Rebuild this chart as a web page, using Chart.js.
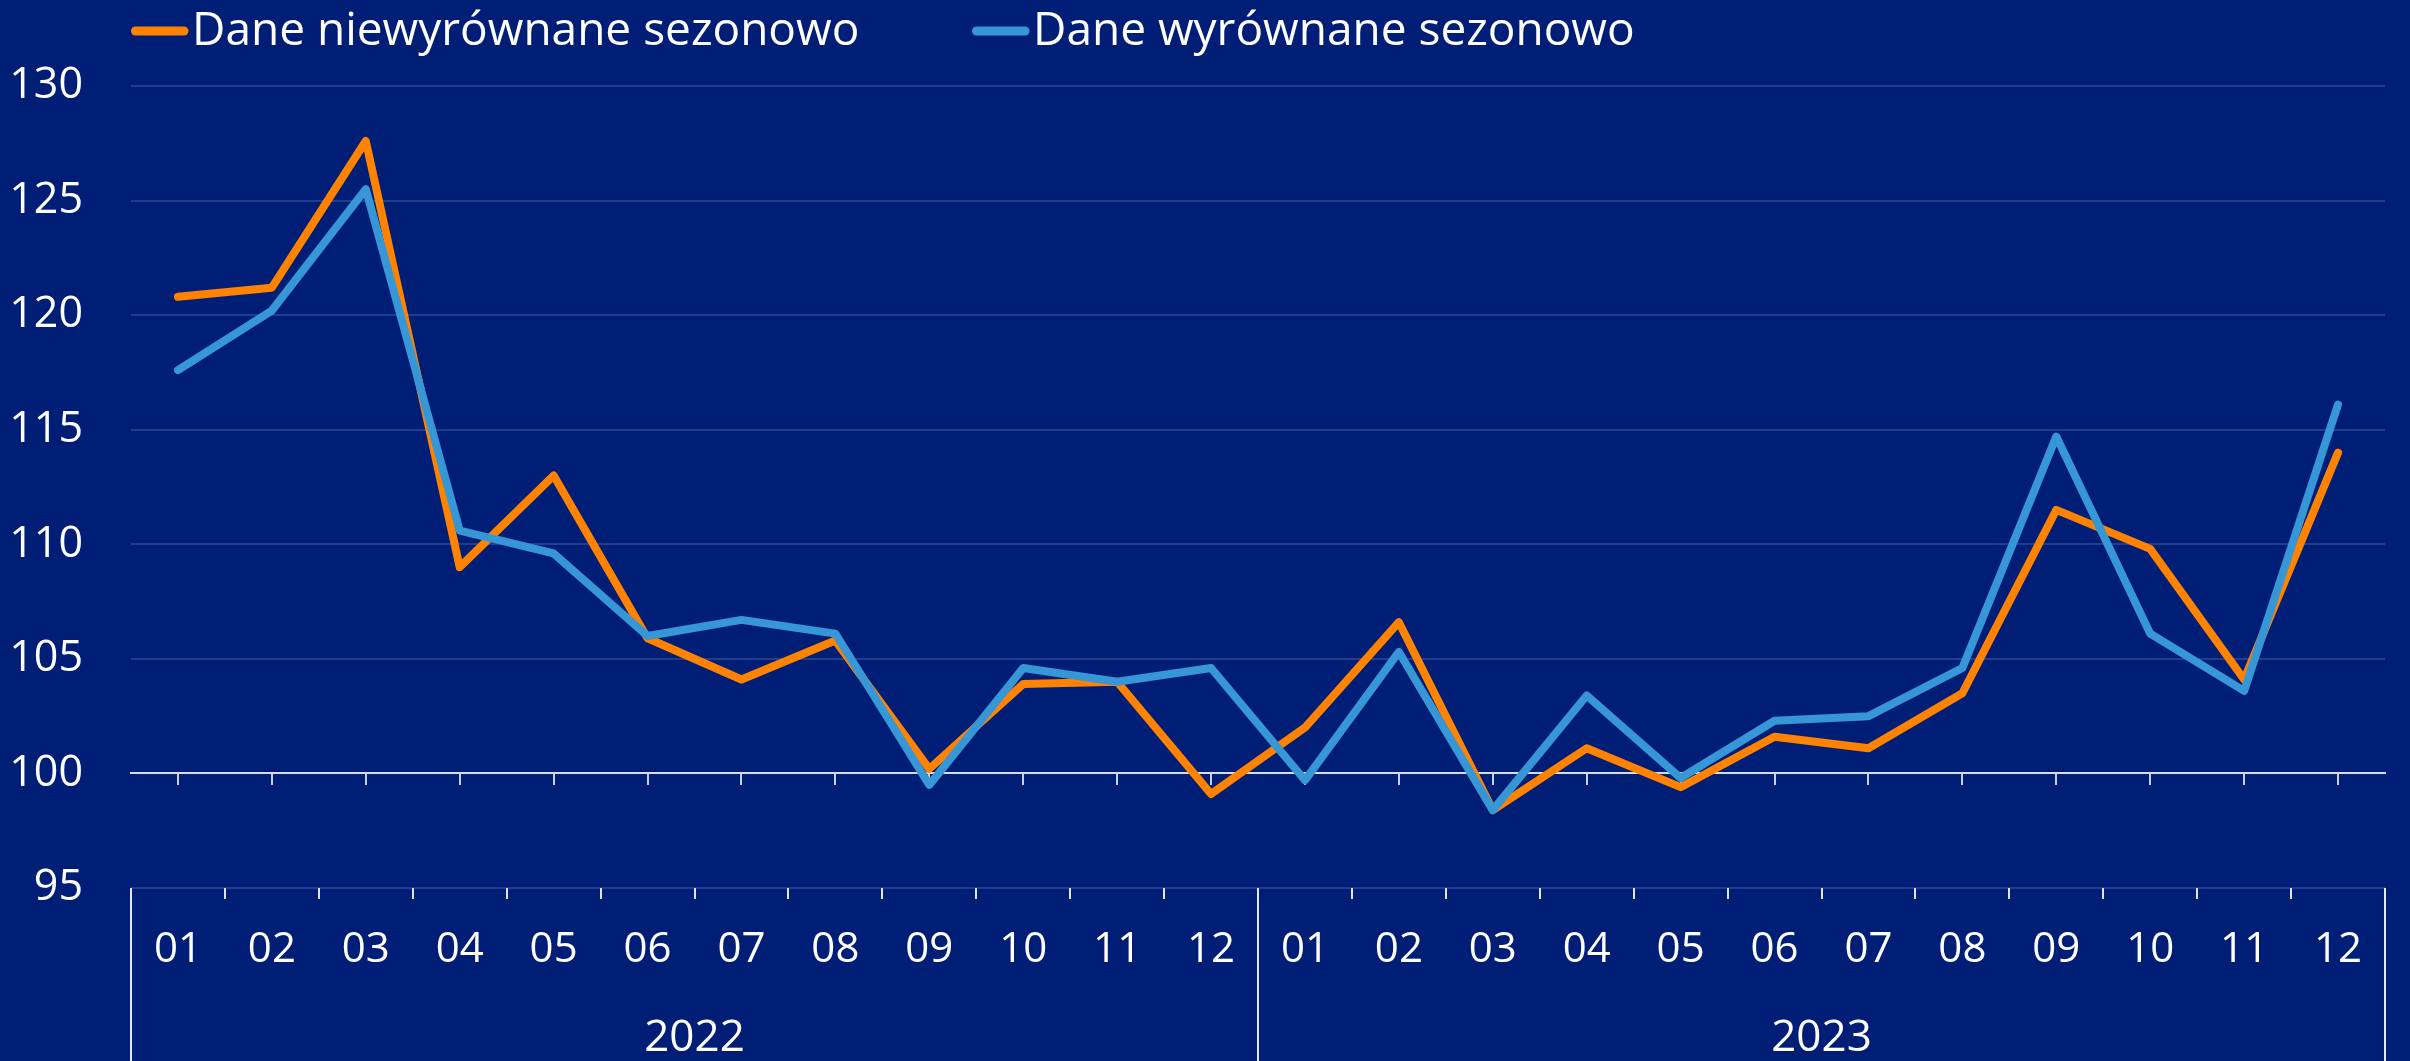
<!DOCTYPE html>
<html>
<head>
<meta charset="utf-8">
<script src="https://cdn.jsdelivr.net/npm/chart.js@4"></script>
<style>
  html, body { margin: 0; padding: 0; background: #001e76; }
  #wrap { width: 2410px; height: 1061px; }
  canvas { display: block; }
</style>
</head>
<body>
<div id="wrap"><canvas id="c" width="2410" height="1061"></canvas></div>
<script>
const months = ['01','02','03','04','05','06','07','08','09','10','11','12',
                '01','02','03','04','05','06','07','08','09','10','11','12'];
const years = ['2022', '2023'];
const yTicks = [95, 100, 105, 110, 115, 120, 125, 130];
const seriesNames = ['Dane niewyrównane sezonowo', 'Dane wyrównane sezonowo'];
const nsaValues = [120.8, 121.2, 127.6, 109.0, 113.0, 105.9, 104.1, 105.8, 100.2, 103.9, 104.0, 99.1,
                   102.0, 106.6, 98.4, 101.1, 99.4, 101.6, 101.1, 103.5, 111.5, 109.8, 104.1, 114.0];
const saValues  = [117.6, 120.2, 125.5, 110.6, 109.6, 106.0, 106.7, 106.1, 99.5, 104.6, 104.0, 104.6,
                   99.7, 105.3, 98.4, 103.4, 99.8, 102.3, 102.5, 104.6, 114.7, 106.1, 103.6, 116.1];

const BG = '#001e76';
const ORANGE = '#ff8300';
const BLUE = '#3796d6';
const GRID = '#223d8c';
const FONT = "'Open Sans', 'Noto Sans', sans-serif";

const bgPlugin = {
  id: 'bg',
  beforeDraw(chart) {
    const ctx = chart.ctx;
    ctx.save();
    ctx.fillStyle = BG;
    ctx.fillRect(0, 0, chart.width, chart.height);
    ctx.restore();
  }
};

const groupLines = {
  id: 'groupLines',
  afterDraw(chart) {
    const xs = chart.scales.x;
    const ctx = chart.ctx;
    const mid = (xs.getPixelForValue(11) + xs.getPixelForValue(12)) / 2;
    const positions = [xs.left, mid, xs.right];
    ctx.save();
    ctx.strokeStyle = '#e6e9f2';
    ctx.lineWidth = 2;
    positions.forEach(px => {
      const p = Math.round(px);
      ctx.beginPath();
      ctx.moveTo(p, chart.chartArea.bottom);
      ctx.lineTo(p, chart.height);
      ctx.stroke();
    });
    ctx.restore();
  }
};

const legendPlugin = {
  id: 'refLegend',
  afterDraw(chart) {
    const ctx = chart.ctx;
    const starts = [chart.chartArea.left, chart.chartArea.left + 841];
    ctx.save();
    ctx.font = "46px " + FONT;
    ctx.textBaseline = 'alphabetic';
    ctx.textAlign = 'left';
    chart.data.datasets.forEach((ds, i) => {
      const x0 = starts[i];
      ctx.strokeStyle = ds.borderColor;
      ctx.lineWidth = 9;
      ctx.lineCap = 'round';
      ctx.beginPath();
      ctx.moveTo(x0 + 4.5, 31);
      ctx.lineTo(x0 + 53, 31);
      ctx.stroke();
      ctx.fillStyle = '#ffffff';
      ctx.fillText(ds.label, x0 + 61, 45);
    });
    ctx.restore();
  }
};

new Chart(document.getElementById('c'), {
  type: 'line',
  data: {
    labels: months,
    datasets: [
      { label: seriesNames[0], data: nsaValues, borderColor: ORANGE, backgroundColor: ORANGE,
        borderWidth: 8, pointRadius: 0, tension: 0, order: 1,
        borderCapStyle: 'round', borderJoinStyle: 'round', xAxisID: 'x', yAxisID: 'y' },
      { label: seriesNames[1], data: saValues, borderColor: BLUE, backgroundColor: BLUE,
        borderWidth: 8, pointRadius: 0, tension: 0, order: 0,
        borderCapStyle: 'round', borderJoinStyle: 'round', xAxisID: 'x', yAxisID: 'y' }
    ]
  },
  options: {
    responsive: false,
    animation: false,
    devicePixelRatio: 1,
    layout: { padding: { top: 86, right: 25, bottom: 0, left: 0 } },
    plugins: {
      legend: { display: false },
      tooltip: { enabled: false }
    },
    scales: {
      y: {
        min: 95, max: 130,
        afterBuildTicks(scale) { scale.ticks = yTicks.map(v => ({ value: v })); },
        afterFit(scale) { scale.width = 131; },
        ticks: { color: '#ffffff', font: { family: FONT, size: 43 }, padding: 48 },
        grid: { color: GRID, lineWidth: 2, drawTicks: false },
        border: { display: false }
      },
      x: {
        type: 'category',
        offset: true,
        position: 'bottom',
        afterFit(scale) { scale.height = 82; },
        ticks: { color: '#ffffff', font: { family: FONT, size: 42 }, padding: 26, maxRotation: 0, autoSkip: false },
        grid: { offset: true, drawOnChartArea: false, tickLength: 11, color: '#dfe3ee', lineWidth: 2 },
        border: { display: false }
      },
      xYear: {
        type: 'category',
        labels: years,
        offset: true,
        position: 'bottom',
        afterFit(scale) { scale.height = 91; },
        ticks: { color: '#ffffff', font: { family: FONT, size: 44 }, padding: 42, maxRotation: 0 },
        grid: { display: false, drawTicks: false },
        border: { display: false }
      },
      xMid: {
        type: 'category',
        labels: months,
        offset: true,
        position: { y: 100 },
        ticks: { display: false },
        grid: { offset: false, drawOnChartArea: false, tickLength: 11, color: '#c9cfe2', lineWidth: 2 },
        border: { display: true, color: '#d6dbe9', width: 2 }
      }
    }
  },
  plugins: [bgPlugin, groupLines, legendPlugin]
});
</script>
</body>
</html>
